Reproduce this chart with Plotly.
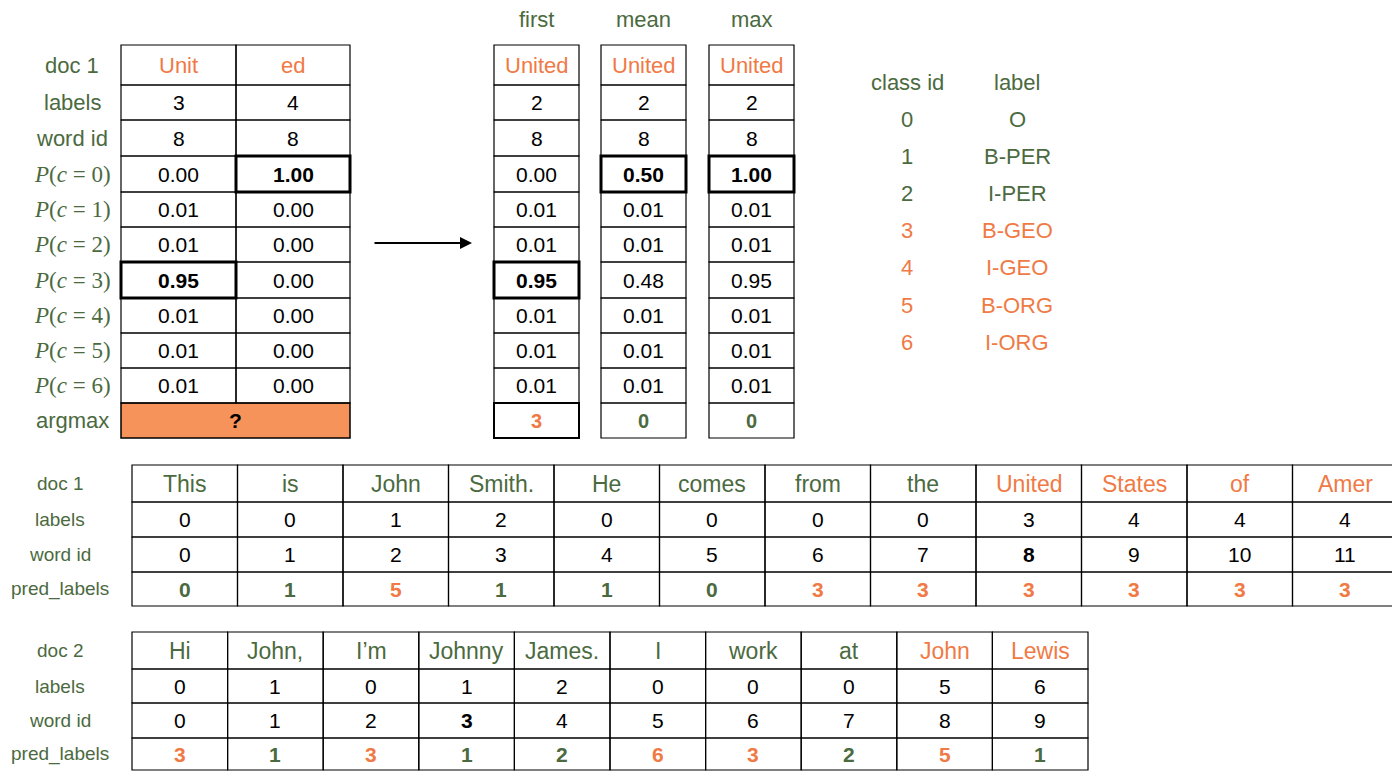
import plotly.graph_objects as go

GREEN = "#4b6a40"
ORANGE = "#f07a45"
FILL = "#f5935b"
SANS = "Liberation Sans, Arial"
SERIF = "Liberation Serif, Times New Roman"

# ---- data ----
row_names = ["doc 1", "labels", "word id"] + ["P(c = %d)" % i for i in range(7)] + ["argmax"]
sub_words = ["Unit", "ed"]
sub_labels = [3, 4]
sub_word_id = [8, 8]
sub_probs = [[0.00, 0.01, 0.01, 0.95, 0.01, 0.01, 0.01],
             [1.00, 0.00, 0.00, 0.00, 0.00, 0.00, 0.00]]

agg_names = ["first", "mean", "max"]
agg_probs = [[0.00, 0.01, 0.01, 0.95, 0.01, 0.01, 0.01],
             [0.50, 0.01, 0.01, 0.48, 0.01, 0.01, 0.01],
             [1.00, 0.01, 0.01, 0.95, 0.01, 0.01, 0.01]]
agg_label = [2, 2, 2]
agg_word_id = [8, 8, 8]
agg_argmax = [3, 0, 0]

class_ids = [0, 1, 2, 3, 4, 5, 6]
class_labels = ["O", "B-PER", "I-PER", "B-GEO", "I-GEO", "B-ORG", "I-ORG"]

doc1_words = ["This", "is", "John", "Smith.", "He", "comes", "from", "the", "United", "States", "of", "Amer"]
doc1_labels = [0, 0, 1, 2, 0, 0, 0, 0, 3, 4, 4, 4]
doc1_word_id = [0, 1, 2, 3, 4, 5, 6, 7, 8, 9, 10, 11]
doc1_pred = [0, 1, 5, 1, 1, 0, 3, 3, 3, 3, 3, 3]

doc2_words = ["Hi", "John,", "I’m", "Johnny", "James.", "I", "work", "at", "John", "Lewis"]
doc2_labels = [0, 1, 0, 1, 2, 0, 0, 0, 5, 6]
doc2_word_id = [0, 1, 2, 3, 4, 5, 6, 7, 8, 9]
doc2_pred = [3, 1, 3, 1, 2, 6, 3, 2, 5, 1]

# ---- layout helpers ----
fig = go.Figure()
shapes, anns = [], []


def cls_color(v):
    return ORANGE if v >= 3 else GREEN


def box(x0, x1, y0, y1, w=1.2, fill=None):
    shapes.append(dict(type="rect", x0=x0, x1=x1, y0=y0, y1=y1,
                       line=dict(color="black", width=w),
                       fillcolor=fill if fill else "rgba(0,0,0,0)", layer="above" if not fill else "below"))


def txt(x, y, s, color="black", size=21, bold=False, family=SANS):
    if bold:
        s = "<b>%s</b>" % s
    anns.append(dict(x=x, y=y, text=s, showarrow=False,
                     font=dict(color=color, size=size, family=family)))


row_edges = [45, 85, 120, 156, 192, 227, 262, 298, 333, 368, 403, 438]


def rc(i):
    return (row_edges[i] + row_edges[i + 1]) / 2


# row names of top-left table
for i, n in enumerate(row_names):
    if n.startswith("P("):
        k = n[-2]
        txt(72, rc(i), "<i>P</i>(<i>c</i> = %s)" % k, GREEN, 23, family=SERIF)
    else:
        txt(72, rc(i), n, GREEN, 22)

# sub-word table
cols = [121, 236, 350]
for j in range(2):
    x0, x1 = cols[j], cols[j + 1]
    xc = (x0 + x1) / 2
    vals = [sub_words[j], sub_labels[j], sub_word_id[j]] + ["%.2f" % p for p in sub_probs[j]]
    best = max(range(7), key=lambda k: sub_probs[j][k])
    for i, v in enumerate(vals):
        thick = i >= 3 and (i - 3) == best
        box(x0, x1, row_edges[i], row_edges[i + 1], 3 if thick else 1.2)
        txt(xc, rc(i), v, ORANGE if i == 0 else "black", 22 if i == 0 else 21, bold=thick)
box(cols[0], cols[2], row_edges[10], row_edges[11], 1.5, fill=FILL)
txt((cols[0] + cols[2]) / 2, rc(10), "?", bold=True)

# arrow
anns.append(dict(x=472, y=243, ax=373, ay=243, xref="x", yref="y", axref="x", ayref="y",
                 showarrow=True, arrowhead=2, arrowsize=1.2, arrowwidth=2,
                 arrowcolor="black", text=""))

# aggregated tables
agg_x = [(494, 579), (601, 686), (709, 794)]
for j, (x0, x1) in enumerate(agg_x):
    xc = (x0 + x1) / 2
    txt(xc, 19, agg_names[j], GREEN, 22)
    best = max(range(7), key=lambda k: agg_probs[j][k])
    vals = ["United", agg_label[j], agg_word_id[j]] + ["%.2f" % p for p in agg_probs[j]]
    for i, v in enumerate(vals):
        thick = i >= 3 and (i - 3) == best
        box(x0, x1, row_edges[i], row_edges[i + 1], 3 if thick else 1.2)
        txt(xc, rc(i), v, ORANGE if i == 0 else "black", 22 if i == 0 else 21, bold=thick)
    box(x0, x1, row_edges[10], row_edges[11], 2 if j == 0 else 1.2)
    txt(xc, rc(10), agg_argmax[j], cls_color(agg_argmax[j]), 20, bold=True)

# class table
txt(907, 82, "class id", GREEN, 22)
txt(1017, 82, "label", GREEN, 22)
for k, (c, l) in enumerate(zip(class_ids, class_labels)):
    y = 119 + k * 37.2
    txt(907, y, c, cls_color(c), 22)
    txt(1017, y, l, cls_color(c), 22)


def doc_table(x0, x1, edges, words, labels, wids, preds, name, bold_id):
    n = len(words)
    w = (x1 - x0) / n
    names = [name, "labels", "word id", "pred_labels"]
    for i, nm in enumerate(names):
        txt(60, (edges[i] + edges[i + 1]) / 2, nm, GREEN, 19)
    for j in range(n):
        a, b = x0 + j * w, x0 + (j + 1) * w
        xc = (a + b) / 2
        rows = [(words[j], ORANGE if labels[j] >= 3 else GREEN, 23, False),
                (labels[j], "black", 21, False),
                (wids[j], "black", 21, wids[j] == bold_id),
                (preds[j], cls_color(preds[j]), 21, True)]
        for i, (v, col, sz, bd) in enumerate(rows):
            box(a, b, edges[i], edges[i + 1])
            txt(xc, (edges[i] + edges[i + 1]) / 2, v, col, sz, bd)


doc_table(132, 1398, [465, 502, 537, 572, 606], doc1_words, doc1_labels, doc1_word_id, doc1_pred, "doc 1", 8)
doc_table(132, 1088, [632, 669, 703, 738, 770], doc2_words, doc2_labels, doc2_word_id, doc2_pred, "doc 2", 3)

# page body adds ~8px offset, so shift the ranges to compensate
fig.update_layout(
    width=1400, height=771, margin=dict(l=0, r=0, t=0, b=0),
    plot_bgcolor="white", paper_bgcolor="white",
    xaxis=dict(range=[8, 1408], visible=False, fixedrange=True),
    yaxis=dict(range=[779, 8], visible=False, fixedrange=True),
    shapes=shapes, annotations=anns, showlegend=False,
)
fig.write_html("out.html")
